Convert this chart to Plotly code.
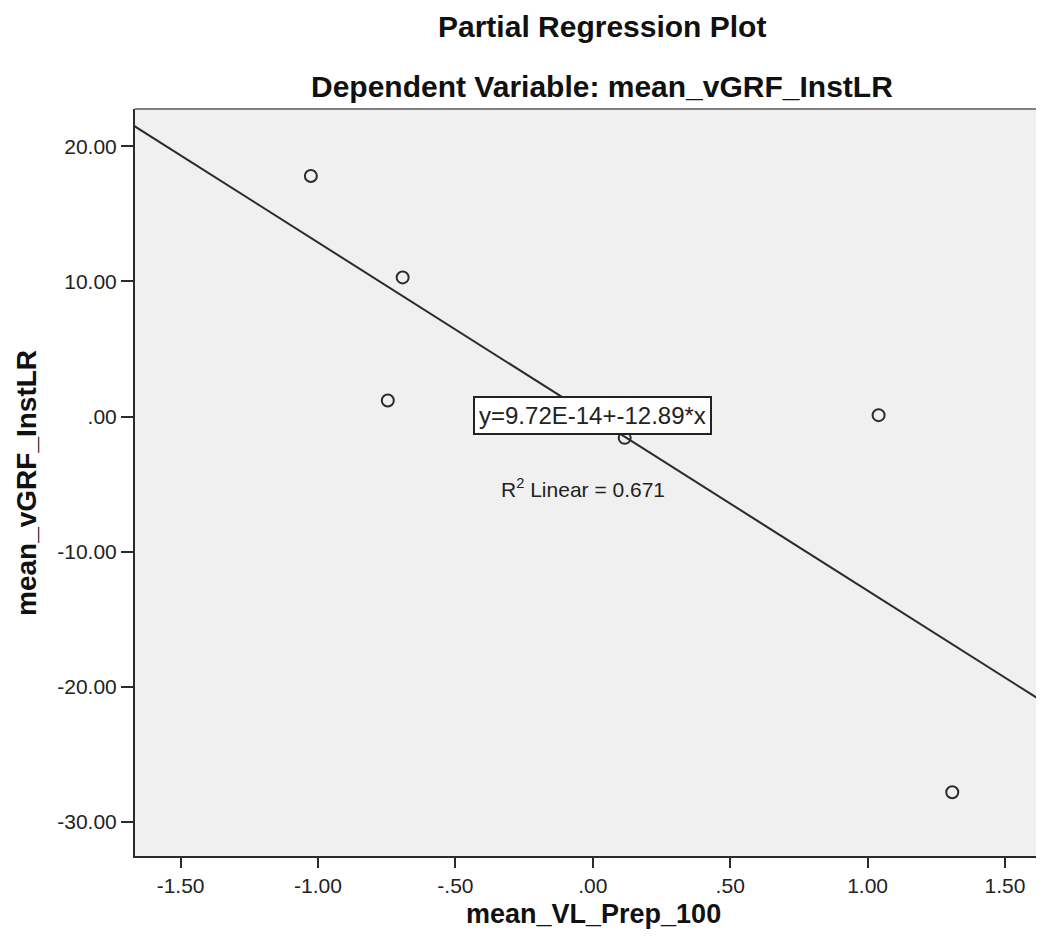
import plotly.graph_objects as go

# Data
x_vals = [-1.026, -0.692, -0.746, 1.040, 1.308, 0.116]
y_vals = [17.81, 10.30, 1.19, 0.10, -27.82, -1.58]

intercept = 9.72e-14
slope = -12.89
r2 = 0.671

x_tickvals = [-1.5, -1.0, -0.5, 0.0, 0.5, 1.0, 1.5]
x_ticktext = ["-1.50", "-1.00", "-.50", ".00", ".50", "1.00", "1.50"]
y_tickvals = [20, 10, 0, -10, -20, -30]
y_ticktext = ["20.00", "10.00", ".00", "-10.00", "-20.00", "-30.00"]

x_range = [-1.666, 1.671]
y_range = [-32.54, 22.77]

title_text = "Partial Regression Plot"
subtitle_text = "Dependent Variable: mean_vGRF_InstLR"
x_title = "mean_VL_Prep_100"
y_title = "mean_vGRF_InstLR"

FONT = "Liberation Sans, Arial, sans-serif"
DARK = "#2b2b2b"

fig = go.Figure()

# fit line across the axis range
line_x = [x_range[0] - 0.05, x_range[1] + 0.05]
line_y = [intercept + slope * v for v in line_x]
fig.add_trace(go.Scatter(
    x=line_x, y=line_y, mode="lines",
    line=dict(color=DARK, width=2),
    hoverinfo="skip", showlegend=False,
))

fig.add_trace(go.Scatter(
    x=x_vals, y=y_vals, mode="markers",
    marker=dict(symbol="circle-open", size=12, color=DARK, line=dict(width=2, color=DARK)),
    showlegend=False,
))

# page body has an 8px default margin: offset so the plot lands where the reference has it
fig.update_layout(
    width=1044, height=943,
    margin=dict(l=127, r=0, t=101, b=95),
    paper_bgcolor="white",
    plot_bgcolor="#f0f0f0",
    font=dict(family=FONT, color="#222222"),
    showlegend=False,
)

fig.update_xaxes(
    range=x_range, showgrid=False, zeroline=False,
    showline=True, linecolor=DARK, linewidth=2,
    ticks="outside", ticklen=10, tickwidth=2, tickcolor=DARK,
    tickvals=x_tickvals, ticktext=x_ticktext,
    tickfont=dict(size=21, family=FONT, color="#222222"),
)
fig.update_yaxes(
    range=y_range, showgrid=False, zeroline=False,
    showline=True, linecolor=DARK, linewidth=2,
    ticks="outside", ticklen=12, tickwidth=2, tickcolor=DARK,
    tickvals=y_tickvals, ticktext=y_ticktext,
    tickfont=dict(size=21, family=FONT, color="#222222"),
)

# top border (lighter)
fig.add_shape(type="line", xref="paper", yref="paper", x0=0, x1=1, y0=1, y1=1,
              line=dict(color="#7f7f7f", width=2))

H = 747.0  # plot height in px
W = 917.0  # plot width in px

def py(p):
    return 1 + (109 - p) / H

def px(p):
    return (p - 135) / W

fig.add_annotation(text="<b>%s</b>" % title_text, xref="paper", yref="paper",
                   x=px(602), y=py(27), xanchor="center", yanchor="middle",
                   showarrow=False, font=dict(size=30, family=FONT, color="#111111"))
fig.add_annotation(text="<b>%s</b>" % subtitle_text, xref="paper", yref="paper",
                   x=px(602), y=py(86), xanchor="center", yanchor="middle",
                   showarrow=False, font=dict(size=30, family=FONT, color="#111111"))
fig.add_annotation(text="<b>%s</b>" % x_title, xref="paper", yref="paper",
                   x=px(593), y=py(914), xanchor="center", yanchor="middle",
                   showarrow=False, font=dict(size=27, family=FONT, color="#111111"))
fig.add_annotation(text="<b>%s</b>" % y_title, xref="paper", yref="paper",
                   x=px(26), y=py(483), xanchor="center", yanchor="middle",
                   textangle=-90,
                   showarrow=False, font=dict(size=28, family=FONT, color="#111111"))

# equation box
fig.add_annotation(text="y=9.72E-14+-12.89*x", x=0.0, y=0.09, xref="x", yref="y",
                   showarrow=False, bgcolor="white", bordercolor="#222222", borderwidth=2,
                   borderpad=4, font=dict(size=24, family=FONT, color="#222222"))
fig.add_annotation(text="R<sup>2</sup> Linear = %.3f" % r2, x=-0.037, y=-5.28, xref="x", yref="y",
                   showarrow=False, font=dict(size=21, family=FONT, color="#222222"))

fig.write_html("out.html")
